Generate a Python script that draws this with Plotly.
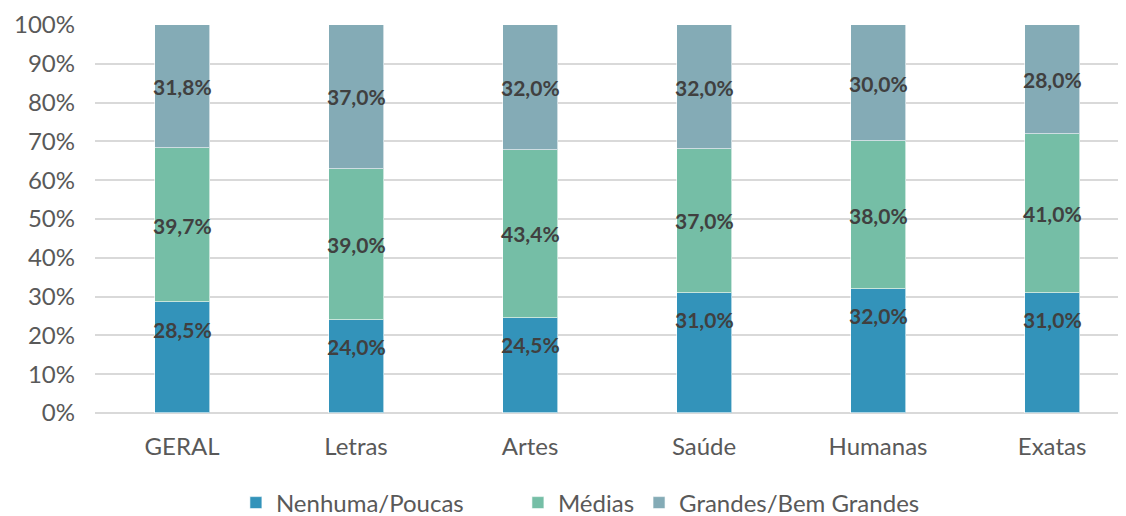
import plotly.graph_objects as go

categories = ["GERAL", "Letras", "Artes", "Saúde", "Humanas", "Exatas"]
nenhuma = [28.5, 24.0, 24.5, 31.0, 32.0, 31.0]
medias = [39.7, 39.0, 43.4, 37.0, 38.0, 41.0]
grandes = [31.8, 37.0, 32.0, 32.0, 30.0, 28.0]
series_names = ["Nenhuma/Poucas", "Médias", "Grandes/Bem Grandes"]
colors = ["#3393BA", "#75BEA6", "#84ABB6"]
tick_vals = [0, 10, 20, 30, 40, 50, 60, 70, 80, 90, 100]
tick_text = ["0%", "10%", "20%", "30%", "40%", "50%", "60%", "70%", "80%", "90%", "100%"]

FONT = "Lato"
NB = "\u00a0"
legend_pad = [NB * 8, "", ""]

fig = go.Figure()
for name, vals, col, pad in zip(series_names, [nenhuma, medias, grandes], colors, legend_pad):
    fig.add_trace(go.Bar(
        x=categories, y=vals, name=name + pad, marker_color=col,
        marker_line=dict(color="rgba(255,255,255,0.6)", width=1),
        width=0.316,
    ))

def fmt(v):
    return f"{v:.1f}".replace(".", ",") + "%"

ann = []
for i, c in enumerate(categories):
    b, m, g = nenhuma[i], medias[i], grandes[i]
    ann.append(dict(x=c, y=b, text=fmt(b), yshift=-27))
    ann.append(dict(x=c, y=b + m / 2, text=fmt(m)))
    ann.append(dict(x=c, y=b + m + g / 2, text=fmt(g)))
for a in ann:
    a.update(showarrow=False, xref="x", yref="y",
             font=dict(family=FONT, size=21, color="#404040", weight="bold"))

fig.update_layout(
    barmode="stack",
    width=1118, height=508,
    margin=dict(l=87, r=0, t=17, b=103, autoexpand=False),
    paper_bgcolor="white", plot_bgcolor="white",
    font=dict(family=FONT, size=24, color="#595959"),
    bargap=0,
    annotations=ann,
    legend=dict(orientation="h", x=0.512, xanchor="center", xref="container",
                y=-0.232, yanchor="middle", font=dict(size=24, color="#595959"),
                itemwidth=30, traceorder="normal"),
    xaxis=dict(range=[-0.5, 5.425], showgrid=False, showline=False, automargin=False,
               ticks="", tickfont=dict(size=24, color="#595959"), ticklabelstandoff=17),
    yaxis=dict(range=[0, 100], tickvals=tick_vals, ticktext=tick_text, automargin=False,
               showgrid=True, gridcolor="#D9D9D9", gridwidth=1.5,
               zeroline=True, zerolinecolor="#D9D9D9", zerolinewidth=1.5,
               tickfont=dict(size=24, color="#595959"), ticklabelstandoff=19),
)
fig.write_html("out.html")
